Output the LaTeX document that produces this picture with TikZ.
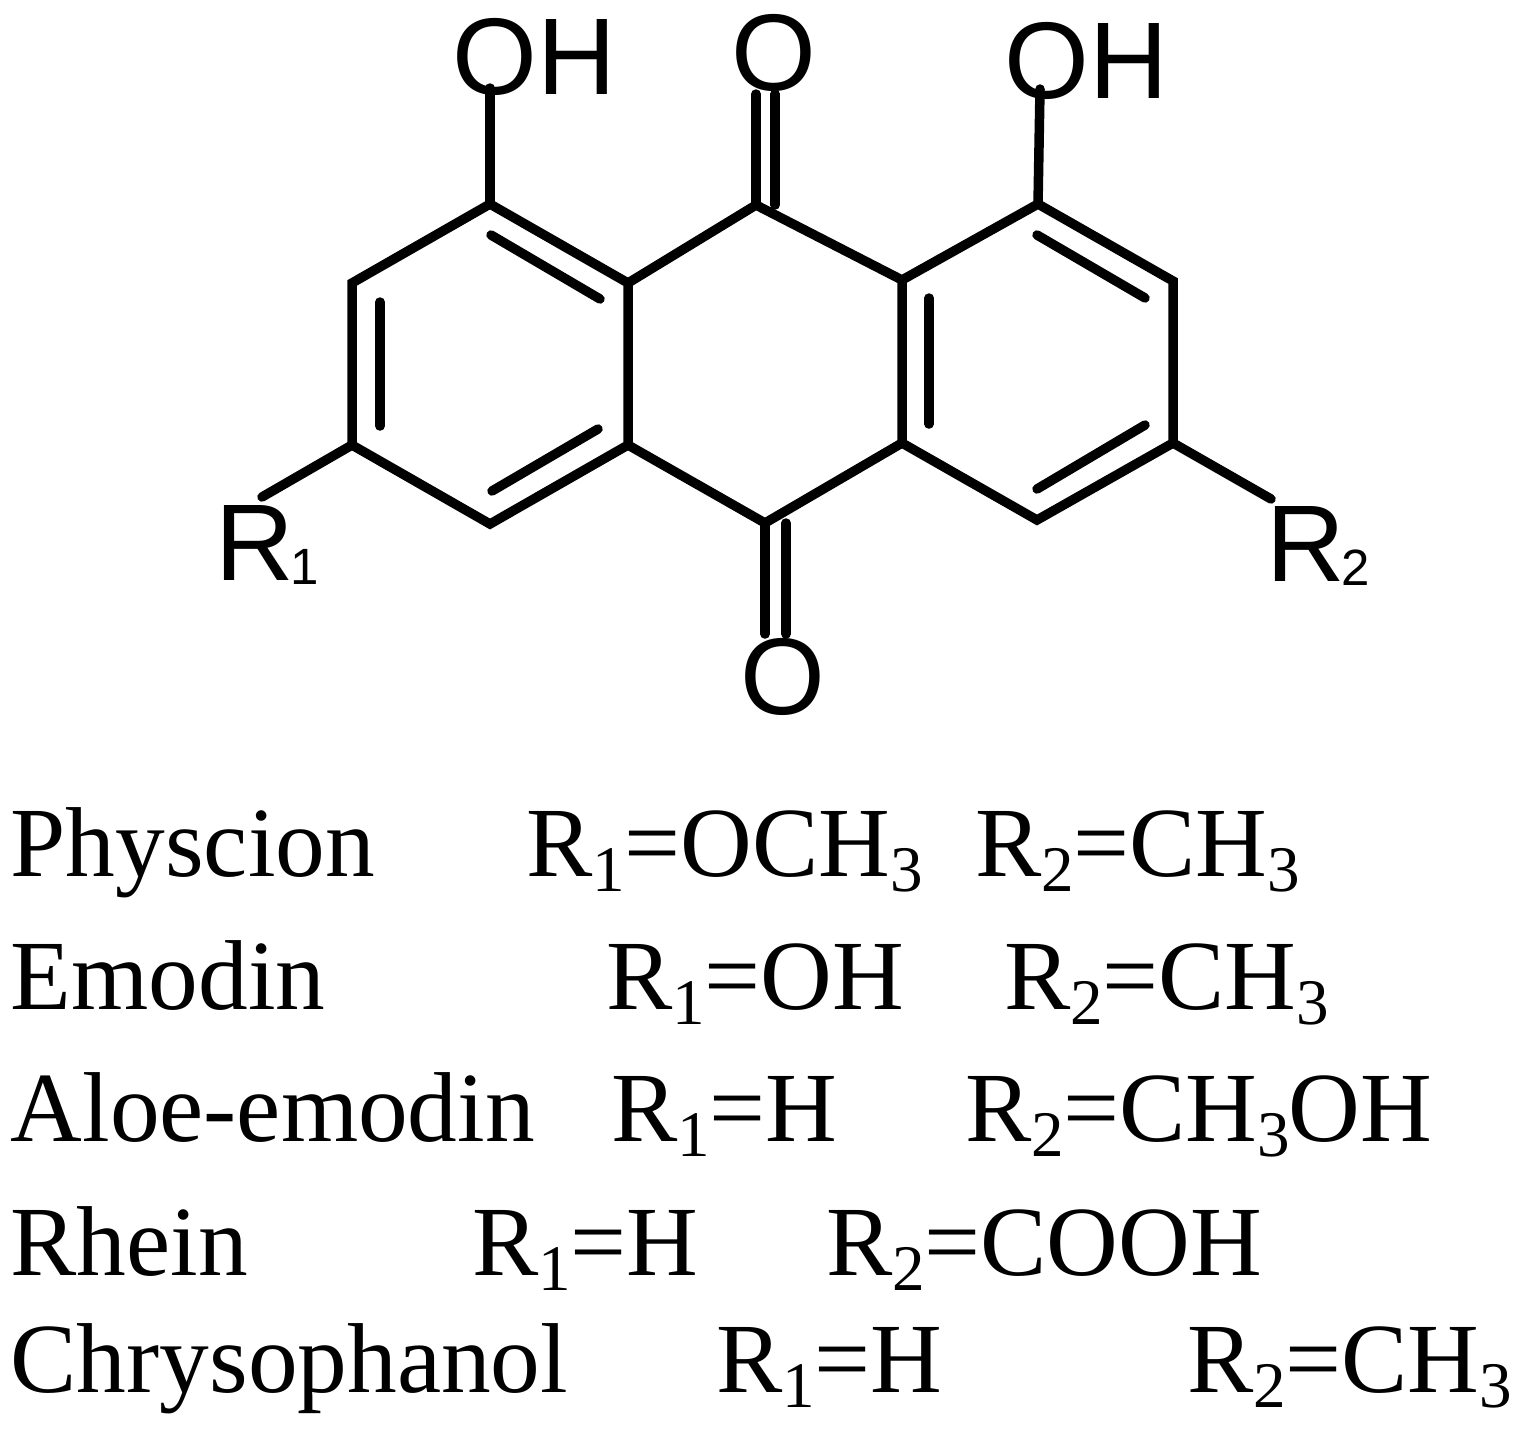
\documentclass[tikz,border=0pt]{standalone}
\usepackage{fontspec}
\setmainfont{Liberation Serif}
\newfontfamily\atomfont{Liberation Sans}
\newcommand{\lsub}[1]{\raisebox{-0.16em}{\fontsize{18.5}{18.5}\selectfont #1}\kern-0.3pt}
\newcommand{\asub}[1]{\kern-1pt\raisebox{-1.3pt}{\fontsize{14.5}{14.5}\selectfont #1}}
\tikzset{
  bond/.style={line width=2.7pt,line cap=round,line join=miter},
  atom/.style={inner sep=0pt,anchor=base west,font=\atomfont\fontsize{31}{31}\selectfont},
  rowtext/.style={inner sep=0pt,anchor=base west,font=\fontsize{28.25}{28.25}\selectfont}
}
\begin{document}
\begin{tikzpicture}[x=0.01cm,y=-0.01cm]
  \useasboundingbox(0,0)rectangle(1513,1430);
  % ring atoms
  \coordinate(la) at (490,204);
  \coordinate(lb) at (352,283);
  \coordinate(lc) at (352,445);
  \coordinate(ld) at (490,524);
  \coordinate(le) at (628,445);
  \coordinate(lf) at (628,283);
  \coordinate(ct) at (756,205);
  \coordinate(cb) at (765,523);
  \coordinate(ra) at (902,280);
  \coordinate(rb) at (1038,204);
  \coordinate(rc) at (1173,281);
  \coordinate(rd) at (1173,443);
  \coordinate(re) at (1037,520);
  \coordinate(rf) at (902,443);
  % free ends of the substituent bonds
  \coordinate(oha) at (490,88);
  \coordinate(ohb) at (1040,89);
  \coordinate(rone) at (262,497);
  \coordinate(rtwo) at (1271,499);
  % labels
  \node[atom](ohleft) at (452,94){OH};
  \node[atom](otop) at (731,90){O};
  \node[atom](ohright) at (1004,98){OH};
  \node[atom](rleft) at (215,580){R\asub{1}};
  \node[atom](obot) at (740,714){O};
  \node[atom](rright) at (1266,581){R\asub{2}};
  % skeleton
  \draw[bond](la)--(lb)--(lc)--(ld)--(le)--(lf)--cycle;
  \draw[bond](lf)--(ct)--(ra)--(rb)--(rc)--(rd)--(re)--(rf)--(ra);
  \draw[bond](le)--(cb)--(rf);
  % inner lines of the double bonds
  \coordinate(ia) at (491,235);\coordinate(ib) at (600,299);
  \coordinate(ic) at (380,302);\coordinate(id) at (380,426);
  \coordinate(ie) at (492,491);\coordinate(if) at (598,429);
  \coordinate(ig) at (929,298);\coordinate(ih) at (929,424);
  \coordinate(ii) at (1037,235);\coordinate(ij) at (1145,298);
  \coordinate(ik) at (1037,489);\coordinate(il) at (1145,425);
  \draw[bond](ia)--(ib);
  \draw[bond](ic)--(id);
  \draw[bond](ie)--(if);
  \draw[bond](ig)--(ih);
  \draw[bond](ii)--(ij);
  \draw[bond](ik)--(il);
  % substituents
  \draw[bond](la)--(oha);
  \draw[bond](rb)--(ohb);
  \draw[bond](lc)--(rone);
  \draw[bond](rd)--(rtwo);
  \coordinate(cta) at (756,205);\coordinate(ctb) at (756,94);
  \coordinate(ctc) at (775,205);\coordinate(ctd) at (775,94);
  \draw[bond](cta)--(ctb);
  \draw[bond](ctc)--(ctd);
  \coordinate(cbb) at (765,634);
  \coordinate(cbc) at (786,523);\coordinate(cbd) at (786,634);
  \draw[bond](cb)--(cbb);
  \draw[bond](cbc)--(cbd);
  % table of compounds
  \node[rowtext](physcion) at (10,876){Physcion};
  \node[rowtext](physa) at (526,876){R\lsub{1}=OCH\lsub{3}};
  \node[rowtext](physb) at (975,876){R\lsub{2}=CH\lsub{3}};
  \node[rowtext](emodin) at (10,1009){Emodin};
  \node[rowtext](emoa) at (606,1009){R\lsub{1}=OH};
  \node[rowtext](emob) at (1004,1009){R\lsub{2}=CH\lsub{3}};
  \node[rowtext](aloe) at (10,1141){Aloe-emodin};
  \node[rowtext](aloea) at (611,1141){R\lsub{1}=H};
  \node[rowtext](aloeb) at (965,1141){R\lsub{2}=CH\lsub{3}OH};
  \node[rowtext](rhein) at (10,1275){Rhein};
  \node[rowtext](rheina) at (472,1275){R\lsub{1}=H};
  \node[rowtext](rheinb) at (826,1275){R\lsub{2}=COOH};
  \node[rowtext](chryso) at (10,1392){Chrysophanol};
  \node[rowtext](chrysa) at (716,1392){R\lsub{1}=H};
  \node[rowtext](chrysb) at (1187,1392){R\lsub{2}=CH\lsub{3}};
\end{tikzpicture}
\end{document}
